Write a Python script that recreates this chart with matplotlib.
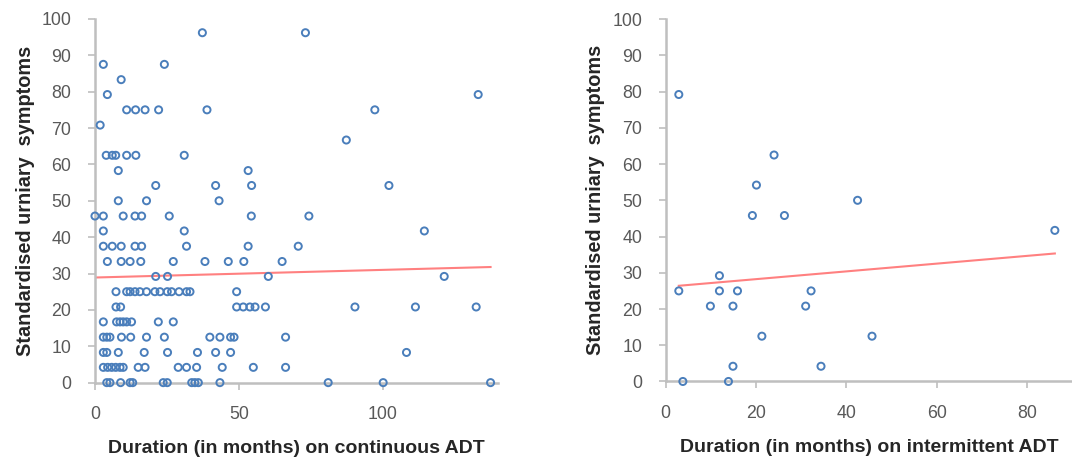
import numpy as np
import matplotlib
matplotlib.use("Agg")
import matplotlib.pyplot as plt

plt.rcParams['font.family'] = ['Liberation Sans', 'DejaVu Sans']

# continuous ADT: duration (months) and standardised urinary symptom score
cont_x = [37.3, 73.1,
          2.9, 24.1,
          9.1,
          4.3, 133.1,
          11.0, 14.1, 17.4, 22.1, 38.9, 97.2,
          1.8,
          87.3,
          3.9, 6.0, 7.2, 11.0, 14.2, 31.0,
          8.1, 53.2,
          21.1, 41.9, 54.4, 102.1,
          8.1, 17.9, 43.1,
          0.0, 2.9, 9.8, 13.9, 16.2, 25.8, 54.3, 74.3,
          2.9, 31.0, 114.4,
          2.9, 6.0, 9.1, 13.9, 16.2, 31.8, 53.2, 70.6,
          4.3, 9.1, 12.2, 15.9, 27.2, 38.2, 46.3, 51.7, 65.0,
          21.1, 25.2, 60.2, 121.3,
          7.3, 11.0, 12.2, 13.9, 15.6, 17.9, 20.8, 22.6, 25.1, 26.6, 29.2, 31.8, 33.0, 49.2,
          7.3, 8.9, 49.2, 51.5, 53.8, 55.6, 59.2, 90.3, 111.3, 132.4,
          2.9, 7.5, 8.7, 9.8, 11.0, 12.7, 22.0, 27.2,
          2.9, 4.1, 5.2, 9.2, 12.4, 17.9, 24.1, 39.9, 43.4, 47.1, 48.3, 66.2,
          2.9, 4.1, 8.1, 17.1, 25.2, 35.6, 41.9, 47.1, 108.2,
          2.9, 4.4, 5.8, 7.2, 8.7, 9.8, 15.0, 17.4, 28.9, 31.8, 35.3, 44.2, 55.0, 66.2,
          4.1, 5.2, 8.9, 12.2, 13.1, 23.7, 25.1, 33.6, 34.7, 35.9, 43.4, 81.0, 100.1, 137.4]
cont_y = [96.2, 96.2,
          87.5, 87.5,
          83.3,
          79.2, 79.2,
          75.0, 75.0, 75.0, 75.0, 75.0, 75.0,
          70.8,
          66.7,
          62.5, 62.5, 62.5, 62.5, 62.5, 62.5,
          58.3, 58.3,
          54.2, 54.2, 54.2, 54.2,
          50.0, 50.0, 50.0,
          45.8, 45.8, 45.8, 45.8, 45.8, 45.8, 45.8, 45.8,
          41.7, 41.7, 41.7,
          37.5, 37.5, 37.5, 37.5, 37.5, 37.5, 37.5, 37.5,
          33.3, 33.3, 33.3, 33.3, 33.3, 33.3, 33.3, 33.3, 33.3,
          29.2, 29.2, 29.2, 29.2,
          25.0, 25.0, 25.0, 25.0, 25.0, 25.0, 25.0, 25.0, 25.0, 25.0, 25.0, 25.0, 25.0, 25.0,
          20.8, 20.8, 20.8, 20.8, 20.8, 20.8, 20.8, 20.8, 20.8, 20.8,
          16.7, 16.7, 16.7, 16.7, 16.7, 16.7, 16.7, 16.7,
          12.5, 12.5, 12.5, 12.5, 12.5, 12.5, 12.5, 12.5, 12.5, 12.5, 12.5, 12.5,
          8.3, 8.3, 8.3, 8.3, 8.3, 8.3, 8.3, 8.3, 8.3,
          4.2, 4.2, 4.2, 4.2, 4.2, 4.2, 4.2, 4.2, 4.2, 4.2, 4.2, 4.2, 4.2, 4.2,
          0.0, 0.0, 0.0, 0.0, 0.0, 0.0, 0.0, 0.0, 0.0, 0.0, 0.0, 0.0, 0.0, 0.0]

# intermittent ADT
inter_x = [2.9, 24.0, 20.1, 19.2, 26.3, 42.5, 11.9, 2.9, 11.9, 15.9, 32.2,
           9.9, 14.9, 31.0, 21.3, 45.7, 14.9, 34.4, 3.8, 13.9, 86.2]
inter_y = [79.2, 62.5, 54.2, 45.8, 45.8, 50.0, 29.2, 25.0, 25.0, 25.0, 25.0,
           20.8, 20.8, 20.8, 12.5, 12.5, 4.2, 4.2, 0.0, 0.0, 41.7]

# linear trend lines (intercept, slope)
cont_trend = (28.9, 0.021)
inter_trend = (26.1, 0.107)

BLUE = '#4a7ebb'
RED = '#ff8080'
GREY = '#bfbfbf'
TXT = '#595959'

fig = plt.figure(figsize=(10.72, 4.61), dpi=100)
ax1 = fig.add_axes((0.0886, 0.170, 0.376, 0.789))
ax2 = fig.add_axes((0.621, 0.1725, 0.379, 0.786))


def style(ax, xmax, xticks, xlabel):
    ax.set_xlim(0, xmax)
    ax.set_ylim(0, 100)
    ax.set_xticks(xticks)
    ax.set_yticks(np.arange(0, 101, 10))
    for s in ['top', 'right']:
        ax.spines[s].set_visible(False)
    for s in ['left', 'bottom']:
        ax.spines[s].set_color(GREY)
        ax.spines[s].set_linewidth(1.8)
    ax.tick_params(axis='both', colors=GREY, labelcolor=TXT, labelsize=12.8,
                   length=5, width=1.2, direction='out')
    ax.tick_params(axis='x', pad=12)
    ax.tick_params(axis='y', pad=12)
    ax.set_xlabel(xlabel, fontsize=14, fontweight='bold', color='#262626', labelpad=12)
    ax.set_ylabel('Standardised urniary  symptoms', fontsize=14.3, fontweight='bold',
                  color='#262626', labelpad=5)


def draw(ax, x, y, trend):
    ax.scatter(x, y, s=26, facecolors='none', edgecolors=BLUE, linewidths=1.4,
               clip_on=False, zorder=3)
    xs = np.array([min(x), max(x)])
    ax.plot(xs, trend[0] + trend[1] * xs, color=RED, lw=1.5, zorder=2)


style(ax1, 140, [0, 50, 100], 'Duration (in months) on continuous ADT')
draw(ax1, cont_x, cont_y, cont_trend)

style(ax2, 90, [0, 20, 40, 60, 80], 'Duration (in months) on intermittent ADT')
draw(ax2, inter_x, inter_y, inter_trend)

fig.savefig('out.png', dpi=100)
